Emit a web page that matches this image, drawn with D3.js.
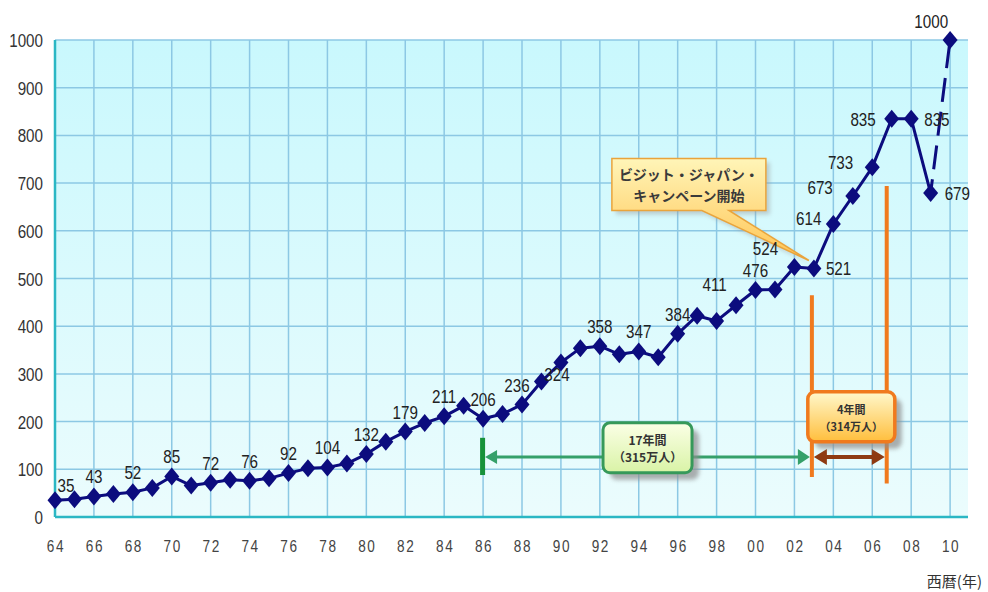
<!DOCTYPE html>
<html lang="ja">
<head>
<meta charset="utf-8">
<title>訪日外国人旅行者数の推移</title>
<script src="https://cdn.jsdelivr.net/npm/d3@7"></script>
<style>
  * { margin: 0; padding: 0; }
  body { background: #fff; width: 988px; height: 592px; overflow: hidden; }
  svg { display: block; }
  .num { font-family: "Liberation Sans", Arial, sans-serif; }
  .jp { font-family: "Noto Sans CJK JP", sans-serif; }
</style>
</head>
<body>
<svg id="chart" width="988" height="592"></svg>
<script>
// visitors to Japan, 万人 (10,000 people); 2010 is the target
const years = d3.range(1964, 2011);
const visitors = [35, 37, 43, 48, 52, 61, 85, 66, 72, 78, 76, 81, 92, 102, 104, 112,
  132, 158, 179, 197, 211, 233, 206, 216, 236, 284, 324, 354, 358, 341, 347, 335,
  384, 422, 411, 444, 476, 477, 524, 521, 614, 673, 733, 835, 835, 679, 1000];
const yTicks = d3.range(0, 1001, 100);
const xTicks = d3.range(1964, 2011, 2);
const labelledYears = [1964, 1966, 1968, 1970, 1972, 1974, 1976, 1978, 1980, 1982, 1984,
  1986, 1988, 1990, 1992, 1994, 1996, 1998, 2000, 2002, 2003, 2004, 2005, 2006, 2007,
  2008, 2009, 2010];
const targetYear = 2010;
const periods = [
  { from: 1986, to: 2003, lines: ["17年間", "（315万人）"] },
  { from: 2003, to: 2007, lines: ["4年間", "（314万人）"] }
];
const campaign = { year: 2003, lines: ["ビジット・ジャパン・", "キャンペーン開始"] };

// label placement around each point: [dx, dy, anchor]
const labelOffset = {
  1964: [11, -8, "middle"], 1990: [-4, 19, "middle"], 1998: [-2, -30, "middle"],
  1988: [-5, -12, "middle"], 2002: [-29, -12, "middle"], 2003: [12, 7, "start"],
  2004: [-12, 1, "end"], 2005: [-20, -2, "end"], 2006: [-19, 2, "end"],
  2007: [-16, 7, "end"], 2008: [13, 7, "start"], 2009: [14, 7, "start"],
  2010: [-2, -12, "end"]
};

const data = years.map((yr, i) => ({ year: yr, value: visitors[i] }));

const svg = d3.select("#chart");
const x = d3.scaleLinear().domain([1964, 2010.92]).range([55, 968]);
const y = d3.scaleLinear().domain([0, 1000]).range([517, 40]);
const NARROW = 0.8;

const defs = svg.append("defs");
function vGrad(id, top, bottom) {
  const g = defs.append("linearGradient").attr("id", id).attr("x1", 0).attr("y1", 0).attr("x2", 0).attr("y2", 1);
  g.append("stop").attr("offset", "0%").attr("stop-color", top);
  g.append("stop").attr("offset", "100%").attr("stop-color", bottom);
}
vGrad("bg", "#c9f8fd", "#ebfcfd");
vGrad("yel", "#fff5b8", "#ffc453");
vGrad("grn", "#fbffe6", "#d9f3a6");
vGrad("ora", "#fff8cc", "#ffbe3c");
defs.append("filter").attr("id", "blur").append("feGaussianBlur").attr("stdDeviation", 2);

// plot area + grid
svg.append("rect").attr("x", x(1964)).attr("y", y(1000))
  .attr("width", x.range()[1] - x(1964)).attr("height", y(0) - y(1000)).attr("fill", "url(#bg)");

const grid = svg.append("g").attr("stroke", "#8cc8e4").attr("stroke-width", 1.5);
grid.selectAll("line.h").data(yTicks.filter(d => d > 0)).join("line")
  .attr("x1", x(1964)).attr("x2", x.range()[1]).attr("y1", d => y(d)).attr("y2", d => y(d));
grid.selectAll("line.v").data(xTicks.filter(d => d > 1964)).join("line")
  .attr("x1", d => x(d)).attr("x2", d => x(d)).attr("y1", y(1000)).attr("y2", y(0));

svg.append("line").attr("x1", x(1964)).attr("x2", x(1964)).attr("y1", y(1000)).attr("y2", y(0))
  .attr("stroke", "#2bb7c4").attr("stroke-width", 2.5);
svg.append("line").attr("x1", x(1964)).attr("x2", x.range()[1]).attr("y1", y(0)).attr("y2", y(0))
  .attr("stroke", "#2bb7c4").attr("stroke-width", 2.5);

// axis labels (horizontally condensed like the original)
svg.append("g").attr("class", "num").attr("fill", "#333").attr("font-size", 19)
  .selectAll("text").data(yTicks).join("text")
  .attr("transform", d => `translate(43,${y(d) + 7}) scale(${NARROW},1)`)
  .attr("text-anchor", "end").text(d => d);
svg.append("g").attr("class", "num").attr("fill", "#444").attr("font-size", 17)
  .attr("letter-spacing", 2)
  .selectAll("text").data(xTicks).join("text")
  .attr("transform", d => `translate(${x(d) + 1},552) scale(${NARROW},1)`)
  .attr("text-anchor", "middle")
  .text(d => String(d % 100).padStart(2, "0"));
svg.append("text").attr("class", "jp").attr("x", 982).attr("y", 587).attr("text-anchor", "end")
  .attr("font-size", 15).attr("fill", "#333").text("西暦(年)");

// annotation helpers
function arrowHead(g, tipX, tipY, dir, w, h, color) {
  g.append("path")
    .attr("d", `M${tipX},${tipY}L${tipX - dir * w},${tipY - h / 2}L${tipX - dir * w},${tipY + h / 2}Z`)
    .attr("fill", color);
}
function labelBox(g, cx, cy, w, h, fill, stroke, sw, lines, fs) {
  g.append("rect").attr("x", cx - w / 2 + 7).attr("y", cy - h / 2 + 7).attr("width", w).attr("height", h)
    .attr("rx", 7).attr("fill", "#8d8d8d").attr("opacity", 0.7).attr("filter", "url(#blur)");
  g.append("rect").attr("x", cx - w / 2).attr("y", cy - h / 2).attr("width", w).attr("height", h)
    .attr("rx", 7).attr("fill", fill).attr("stroke", stroke).attr("stroke-width", sw);
  g.append("g").attr("class", "jp").attr("font-size", fs).attr("font-weight", 700).attr("fill", "#333")
    .selectAll("text").data(lines).join("text")
    .attr("x", cx).attr("y", (d, i) => cy - 3 + i * 17).attr("text-anchor", "middle").text(d => d);
}

// 17-year period (green)
const ann = svg.append("g");
const p1 = periods[0], p2 = periods[1];
const armY = y(126);
ann.append("rect").attr("x", x(p1.from) - 3).attr("y", y(166)).attr("width", 5).attr("height", y(88) - y(166))
  .attr("fill", "#17923a");
ann.append("line").attr("x1", x(p1.from) + 10).attr("x2", x(p1.to) - 14).attr("y1", armY).attr("y2", armY)
  .attr("stroke", "#35a06a").attr("stroke-width", 3);
arrowHead(ann, x(p1.from) + 2, armY, -1, 12, 14, "#35a06a");
arrowHead(ann, x(p1.to) - 4, armY, 1, 12, 16, "#35a06a");

// 4-year period (orange)
const oL = x(p2.from) - 2, oR = x(p2.to) - 5;
ann.append("line").attr("x1", oL).attr("x2", oL).attr("y1", y(465)).attr("y2", y(84))
  .attr("stroke", "#f07a1e").attr("stroke-width", 4);
ann.append("line").attr("x1", oR).attr("x2", oR).attr("y1", y(694)).attr("y2", y(70))
  .attr("stroke", "#f07a1e").attr("stroke-width", 4);
ann.append("line").attr("x1", oL + 12).attr("x2", oR - 12).attr("y1", armY).attr("y2", armY)
  .attr("stroke", "#8e3a12").attr("stroke-width", 4);
arrowHead(ann, oL + 2, armY, -1, 13, 16, "#8e3a12");
arrowHead(ann, oR - 2, armY, 1, 13, 16, "#8e3a12");

labelBox(ann, x(1994.45), y(145), 89, 50, "url(#grn)", "#36995a", 3, p1.lines, 12);
labelBox(ann, (oL + oR) / 2 + 2, y(210), 87, 50, "url(#ora)", "#f07a1e", 3.5, p2.lines, 11);

// campaign callout
const camp = data.find(d => d.year === campaign.year);
const tipX = x(camp.year) - 5, tipY = y(camp.value) - 8;
const bx = tipX - 197, by = tipY - 102, bw = 154, bh = 52;
const callout = `M${bx},${by}H${bx + bw}V${by + bh}H${bx + 117}L${tipX},${tipY}L${bx + 90},${by + bh}H${bx}Z`;
svg.append("path").attr("d", callout).attr("transform", "translate(4,4)")
  .attr("fill", "#999").attr("opacity", 0.45).attr("filter", "url(#blur)");
svg.append("path").attr("d", callout).attr("fill", "url(#yel)").attr("stroke", "#e9a43c").attr("stroke-width", 1.5);
svg.append("g").attr("class", "jp").attr("font-size", 14).attr("font-weight", 700).attr("fill", "#3a3a3a")
  .selectAll("text").data(campaign.lines).join("text")
  .attr("x", bx + bw / 2).attr("y", (d, i) => by + 22 + i * 21).attr("text-anchor", "middle").text(d => d);

// series line
const line = d3.line().x(d => x(d.year)).y(d => y(d.value));
const actual = data.filter(d => d.year < targetYear);
const target = data.filter(d => d.year >= targetYear - 1);
svg.append("path").datum(actual).attr("d", line).attr("fill", "none")
  .attr("stroke", "#0c0c7e").attr("stroke-width", 3).attr("stroke-linejoin", "round");
svg.append("path").datum(target).attr("d", line).attr("fill", "none")
  .attr("stroke", "#0c0c7e").attr("stroke-width", 3)
  .attr("stroke-dasharray", "24,10").attr("stroke-dashoffset", 10);

svg.append("g").selectAll("path").data(data).join("path")
  .attr("transform", d => `translate(${x(d.year)},${y(d.value)})`)
  .attr("d", "M0,-9L7.5,0L0,9L-7.5,0Z").attr("fill", "#0c0c7e");

// value labels
const off = d => labelOffset[d.year] || [0, -13, "middle"];
svg.append("g").attr("class", "num").attr("font-size", 19).attr("fill", "#222")
  .selectAll("text").data(data.filter(d => labelledYears.includes(d.year))).join("text")
  .attr("transform", d => `translate(${x(d.year) + off(d)[0]},${y(d.value) + off(d)[1]}) scale(${NARROW},1)`)
  .attr("text-anchor", d => off(d)[2])
  .text(d => d.value);
</script>
</body>
</html>
